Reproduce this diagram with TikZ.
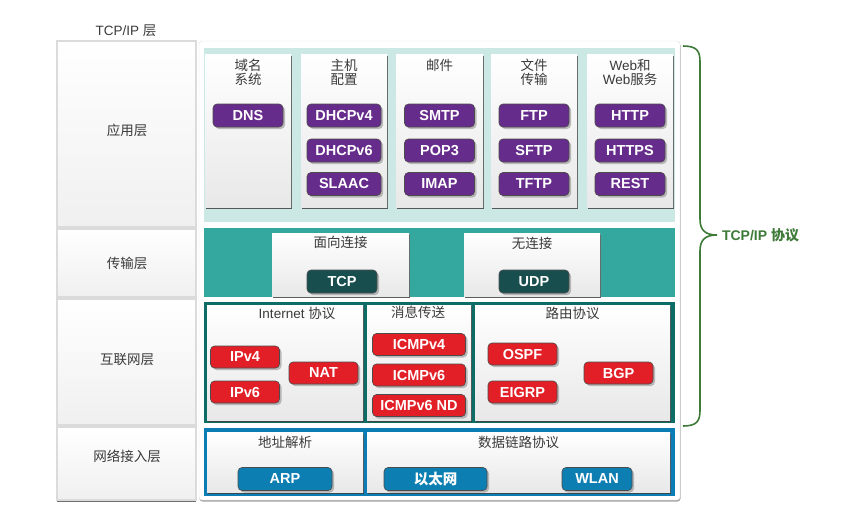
\documentclass[tikz,border=0pt]{standalone}
\usepackage{fontspec}
\setmainfont{Liberation Sans}
\newfontfamily\cjk{Noto Sans CJK SC}
\newcommand\zhc[1]{{\cjk #1}}
\usetikzlibrary{shadows}
\definecolor{purp}{RGB}{102,44,139}
\definecolor{appbg}{RGB}{204,232,228}
\definecolor{trbg}{RGB}{52,167,159}
\definecolor{tcpc}{RGB}{24,78,78}
\definecolor{inbg}{RGB}{14,108,103}
\definecolor{redc}{RGB}{226,30,38}
\definecolor{nabg}{RGB}{11,125,180}
\definecolor{bluep}{RGB}{12,126,178}
\definecolor{grn}{RGB}{62,122,56}
\definecolor{txt}{RGB}{58,58,58}
\begin{document}
\begin{tikzpicture}[x=1pt,y=-1pt,
  every node/.style={outer sep=0pt},
  lbl/.style={text=txt,font=\fontsize{13.5}{14}\selectfont,align=center,inner sep=0pt},
  leftbox/.style={anchor=north west,top color=white,bottom color=black!6,draw=black!14,line width=1.4pt,inner sep=0pt},
  bg/.style={anchor=north west,inner sep=0pt},
  card/.style={anchor=north west,top color=white,bottom color=black!9,inner sep=0pt,
    drop shadow={shadow xshift=0.6pt,shadow yshift=-1.6pt,fill=black!75,opacity=0.85}},
  pill/.style={rounded corners=4pt,draw=black!70,line width=0.6pt,text=white,
    font=\bfseries\fontsize{14.5}{14.5}\selectfont,minimum height=23pt,inner sep=0pt,
    drop shadow={shadow xshift=2pt,shadow yshift=-2pt,opacity=0.5}},
  brace/.style={draw=grn,line width=1.6pt}
]
\useasboundingbox (0,0) rectangle (850,528);
\fill[white] (0,0) rectangle (850,528);

% title
\node[lbl] (ttl) at (126,31) {TCP/IP \zhc{层}};

% left column
\node[leftbox,minimum width=139pt,minimum height=186pt,
  drop shadow={shadow xshift=0pt,shadow yshift=-1.5pt,fill=black!60,opacity=0.6}] (lapp) at (57,41) {};
\node[leftbox,minimum width=139pt,minimum height=68pt] (ltr) at (57,229) {};
\node[leftbox,minimum width=139pt,minimum height=126pt] (lin) at (57,299) {};
\node[leftbox,minimum width=139pt,minimum height=73pt,
  drop shadow={shadow xshift=0pt,shadow yshift=-1.5pt,fill=black!70,opacity=0.8}] (lna) at (57,427) {};
\node[lbl] (tapp) at (127,130) {\zhc{应用层}};
\node[lbl] (ttr) at (127,263) {\zhc{传输层}};
\node[lbl] (tin) at (127,360) {\zhc{互联网层}};
\node[lbl] (tna) at (127,456) {\zhc{网络接入层}};

% main panel
\node[anchor=north west,fill=white,draw=black!12,rounded corners=3pt,inner sep=0pt,
  minimum width=481pt,minimum height=459pt,
  drop shadow={shadow xshift=0.5pt,shadow yshift=-1.5pt,fill=black!60,opacity=0.6}] (panel) at (199,41) {};

% application layer
\node[bg,fill=appbg,minimum width=471pt,minimum height=174pt] (appbg) at (204,48) {};
\node[card,minimum width=86pt,minimum height=153pt] (b1) at (205,54) {};
\node[card,minimum width=86pt,minimum height=153pt] (b2) at (301,54) {};
\node[card,minimum width=87pt,minimum height=153pt] (b3) at (396,54) {};
\node[card,minimum width=86pt,minimum height=153pt] (b4) at (491,54) {};
\node[card,minimum width=86pt,minimum height=153pt] (b5) at (587,54) {};
\node[lbl] (t1) at (248,72) {\zhc{域名}\\\zhc{系统}};
\node[lbl] (t2) at (344,72) {\zhc{主机}\\\zhc{配置}};
\node[lbl] (t3) at (439.5,65) {\zhc{邮件}};
\node[lbl] (t4) at (534,72) {\zhc{文件}\\\zhc{传输}};
\node[lbl] (t5) at (630,72) {Web\zhc{和}\\Web\zhc{服务}};

\node[pill,fill=purp,minimum width=70pt] (dns) at (248,115.5) {DNS};
\node[pill,fill=purp,minimum width=74pt] (dhcp4) at (344,115.5) {DHCPv4};
\node[pill,fill=purp,minimum width=74pt] (dhcp6) at (344,150.5) {DHCPv6};
\node[pill,fill=purp,minimum width=74pt] (slaac) at (344,184) {SLAAC};
\node[pill,fill=purp,minimum width=70pt] (smtp) at (439.5,115.5) {SMTP};
\node[pill,fill=purp,minimum width=70pt] (pop3) at (439.5,150.5) {POP3};
\node[pill,fill=purp,minimum width=70pt] (imap) at (439.5,184) {IMAP};
\node[pill,fill=purp,minimum width=70pt] (ftp) at (534,115.5) {FTP};
\node[pill,fill=purp,minimum width=70pt] (sftp) at (534,150.5) {SFTP};
\node[pill,fill=purp,minimum width=70pt] (tftp) at (534,184) {TFTP};
\node[pill,fill=purp,minimum width=70pt] (http) at (630,115.5) {HTTP};
\node[pill,fill=purp,minimum width=70pt] (https) at (630,150.5) {HTTPS};
\node[pill,fill=purp,minimum width=70pt] (rest) at (630,184) {REST};

% transport layer
\node[bg,fill=trbg,minimum width=471pt,minimum height=69pt] (trbg) at (204,228) {};
\node[card,minimum width=137pt,minimum height=63pt,
  drop shadow={shadow xshift=0.6pt,shadow yshift=-1.2pt,fill=black!60,opacity=0.5}] (co) at (272,233) {};
\node[card,minimum width=136pt,minimum height=63pt,
  drop shadow={shadow xshift=0.6pt,shadow yshift=-1.2pt,fill=black!60,opacity=0.5}] (cl) at (464,233) {};
\node[lbl] (tco) at (340.5,242) {\zhc{面向连接}};
\node[lbl] (tcl) at (532,243) {\zhc{无连接}};
\node[pill,fill=tcpc,minimum width=70pt] (tcp) at (342,281.5) {TCP};
\node[pill,fill=tcpc,minimum width=70pt] (udp) at (534,281.5) {UDP};

% internet layer
\node[bg,fill=inbg,minimum width=471pt,minimum height=121pt] (inbg) at (204,302) {};
\node[card,minimum width=156pt,minimum height=115pt] (ip) at (207,305) {};
\node[card,minimum width=104pt,minimum height=115pt] (msg) at (367,305) {};
\node[card,minimum width=195pt,minimum height=115pt] (rt) at (475,305) {};
\node[lbl] (tip1) at (297,313) {Internet \zhc{协议}};
\node[lbl] (tmsg) at (418,312) {\zhc{消息传送}};
\node[lbl] (trt) at (572.5,313) {\zhc{路由协议}};
\node[pill,fill=redc,minimum width=69pt,minimum height=22pt] (ipv4) at (245,357) {IPv4};
\node[pill,fill=redc,minimum width=69pt,minimum height=22pt] (ipv6) at (245,392) {IPv6};
\node[pill,fill=redc,minimum width=69pt,minimum height=22pt] (nat) at (323.5,373) {NAT};
\node[pill,fill=redc,minimum width=93pt,minimum height=22pt] (icmp4) at (419,344.5) {ICMPv4};
\node[pill,fill=redc,minimum width=93pt,minimum height=22pt] (icmp6) at (419,375) {ICMPv6};
\node[pill,fill=redc,minimum width=93pt,minimum height=22pt] (icmpnd) at (419,405.5) {ICMPv6 ND};
\node[pill,fill=redc,minimum width=69pt,minimum height=22pt] (ospf) at (522.5,354) {OSPF};
\node[pill,fill=redc,minimum width=69pt,minimum height=22pt] (eigrp) at (522.5,392) {EIGRP};
\node[pill,fill=redc,minimum width=69pt,minimum height=22pt] (bgp) at (618.5,373) {BGP};

% network access layer
\node[bg,fill=nabg,minimum width=471pt,minimum height=68pt] (nabg) at (204,428) {};
\node[card,minimum width=156pt,minimum height=60pt] (ar) at (207,432) {};
\node[card,minimum width=303pt,minimum height=60pt] (dl) at (367,432) {};
\node[lbl] (tar) at (285,442) {\zhc{地址解析}};
\node[lbl] (tdl) at (518.5,442) {\zhc{数据链路协议}};
\node[pill,fill=bluep,minimum width=94pt] (arp) at (285,479) {ARP};
\node[pill,fill=bluep,minimum width=103pt] (eth) at (435.5,479) {\zhc{以太网}};
\node[pill,fill=bluep,minimum width=70pt] (wlan) at (597,479) {WLAN};

% brace
\coordinate (btop) at (683,46);
\coordinate (bbot) at (683,426);
\coordinate (btip) at (717,235);
\draw[brace] (btop) .. controls (697,46) and (700,51) .. (700,62) -- (700,219)
  .. controls (700,230) and (705,235) .. (btip)
  .. controls (705,235) and (700,240) .. (700,251) -- (700,410)
  .. controls (700,421) and (697,426) .. (bbot);
\node[anchor=west,text=grn,font=\bfseries\fontsize{14}{14}\selectfont,inner sep=0pt] (tcpip) at (722,235) {TCP/IP \zhc{协议}};
\end{tikzpicture}
\end{document}
